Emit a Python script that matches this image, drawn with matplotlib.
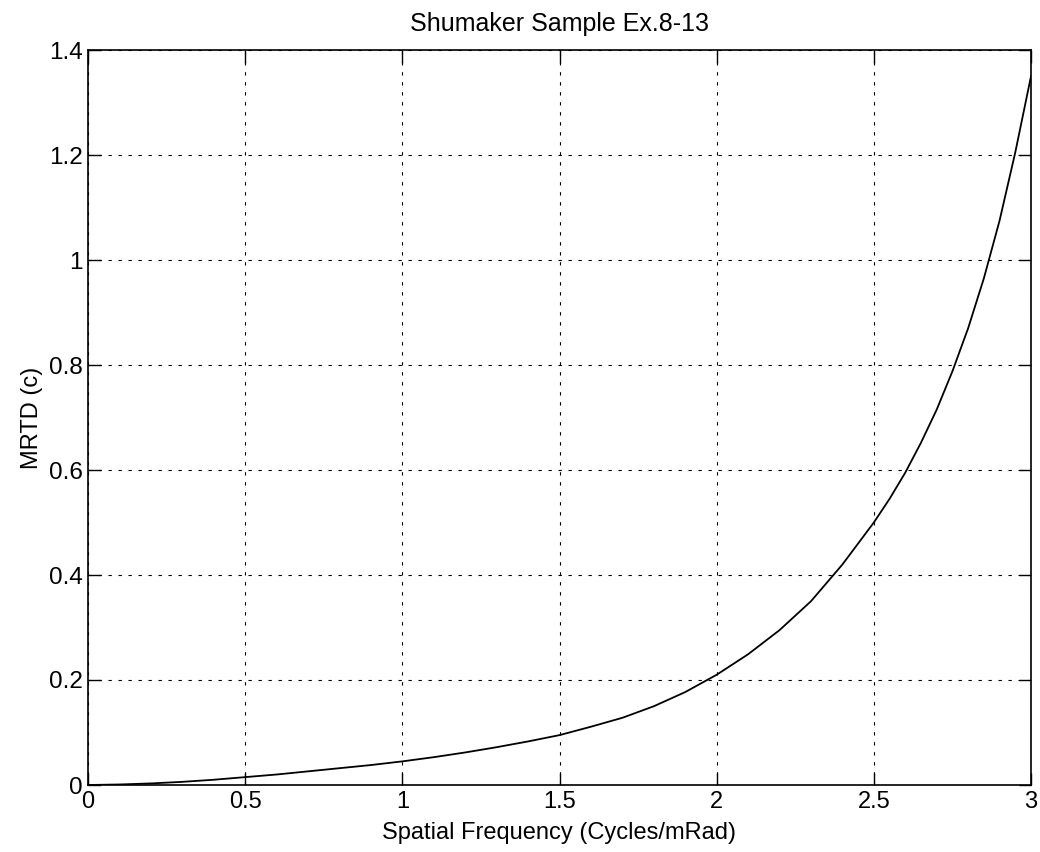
import matplotlib
matplotlib.use("Agg")
import matplotlib.pyplot as plt

plt.rcParams['font.family'] = ['Liberation Sans', 'DejaVu Sans']

freq = [0.0, 0.1, 0.2, 0.3, 0.4, 0.5, 0.6, 0.7, 0.8, 0.9, 1.0,
        1.1, 1.2, 1.3, 1.4, 1.5, 1.6, 1.7, 1.8, 1.9, 2.0,
        2.1, 2.2, 2.3, 2.4, 2.5, 2.55, 2.6, 2.65, 2.7, 2.75,
        2.8, 2.85, 2.9, 2.95, 3.0]
mrtd = [0.000, 0.001, 0.003, 0.006, 0.010, 0.015, 0.020, 0.026, 0.032, 0.038, 0.045,
        0.053, 0.062, 0.072, 0.083, 0.095, 0.111, 0.128, 0.150, 0.177, 0.210,
        0.249, 0.295, 0.350, 0.420, 0.500, 0.545, 0.595, 0.652, 0.715, 0.788,
        0.870, 0.965, 1.075, 1.205, 1.350]

xticks = [0, 0.5, 1, 1.5, 2, 2.5, 3]
xtick_labels = ['0', '0.5', '1', '1.5', '2', '2.5', '3']
yticks = [0, 0.2, 0.4, 0.6, 0.8, 1.0, 1.2, 1.4]
ytick_labels = ['0', '0.2', '0.4', '0.6', '0.8', '1', '1.2', '1.4']

fig = plt.figure(figsize=(10.4, 8.52), dpi=100)
ax = fig.add_axes([88/1040, 1 - 785/852, (1031-88)/1040, (785-50)/852])

ax.plot(freq, mrtd, color='black', linewidth=1.3)

ax.set_xlim(0, 3)
ax.set_ylim(0, 1.4)
ax.set_xticks(xticks)
ax.set_xticklabels(xtick_labels)
ax.set_yticks(yticks)
ax.set_yticklabels(ytick_labels)

ax.grid(True, color='black', linestyle=(0, (3, 6)), linewidth=0.8)
ax.tick_params(direction='in', length=9, width=1.0, top=True, right=True,
               labelsize=17, pad=4, colors='black')
ax.tick_params(axis='y', labelsize=17.5)
for s in ax.spines.values():
    s.set_linewidth(1.2)
    s.set_color('black')

ax.set_title('Shumaker Sample Ex.8-13', fontsize=18, pad=14)
ax.set_xlabel('Spatial Frequency (Cycles/mRad)', fontsize=17, labelpad=7)
ax.set_ylabel('MRTD (c)', fontsize=17, labelpad=4)

fig.savefig('out.png', dpi=100)
